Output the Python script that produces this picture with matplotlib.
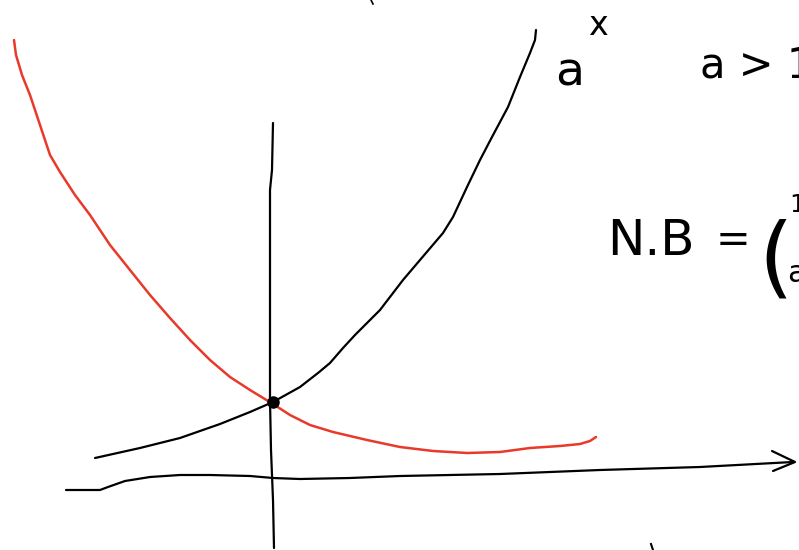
import matplotlib
matplotlib.use("Agg")
import matplotlib.pyplot as plt

# Sketch of a^x (a > 1) and its mirror (1/a)^x, in canvas pixel units
growth_x = [95, 140, 180, 220, 250, 273, 300, 318, 330, 343, 355, 367, 380, 403, 420, 443, 453, 467, 480, 492, 508, 520, 530, 535, 536]
growth_y = [458, 448, 438, 424, 412, 402, 387, 373, 363, 348, 335, 323, 310, 280, 260, 233, 217, 187, 160, 137, 107, 77, 53, 40, 30]

decay_x = [14, 16, 22, 30, 40, 50, 60, 75, 90, 110, 130, 150, 170, 190, 210, 230, 250, 273, 290, 310, 333, 367, 400, 433, 467, 500, 530, 560, 580, 590, 596]
decay_y = [40, 55, 75, 95, 125, 155, 172, 195, 215, 245, 270, 295, 318, 340, 360, 377, 390, 404, 415, 425, 432, 440, 447, 451, 453, 452, 448, 446, 444, 441, 437]

yaxis_x = [273, 272, 270, 270, 270, 271, 273, 274]
yaxis_y = [123, 170, 190, 300, 400, 450, 500, 548]

xaxis_x = [66, 100, 108, 125, 150, 180, 210, 250, 273, 300, 350, 400, 500, 600, 700, 793]
xaxis_y = [490, 490, 487, 481, 477, 475, 475, 476, 478, 479, 478, 476, 474, 470, 467, 462]

arrow_x = [772, 795, 773]
arrow_y = [451, 462, 471]

intercept = (273, 402)

fig = plt.figure(figsize=(7.99, 5.5), dpi=100)
ax = fig.add_axes([0, 0, 1, 1])
ax.set_xlim(0, 799)
ax.set_ylim(550, 0)
ax.axis("off")

ink = "#000000"
red = "#e8392a"

ax.plot(xaxis_x, xaxis_y, color=ink, lw=1.6, solid_capstyle="round", solid_joinstyle="round")
ax.plot(arrow_x, arrow_y, color=ink, lw=1.6, solid_capstyle="round", solid_joinstyle="round")
ax.plot(yaxis_x, yaxis_y, color=ink, lw=1.6, solid_capstyle="round", solid_joinstyle="round")
ax.plot(growth_x, growth_y, color=ink, lw=1.6, solid_capstyle="round", solid_joinstyle="round")
ax.plot(decay_x, decay_y, color=red, lw=1.8, solid_capstyle="round", solid_joinstyle="round")
ax.plot(*intercept, "o", color=ink, ms=8)

# stray pen marks
ax.plot([371, 373], [0, 4], color=ink, lw=1.2)
ax.plot([651, 653], [544, 550], color=ink, lw=1.5)

# annotations
ax.text(570, 86, "a", fontsize=34, color=ink, ha="center", va="baseline", family="DejaVu Sans")
ax.text(598, 35, "x", fontsize=24, color=ink, ha="center", va="baseline", family="DejaVu Sans")
ax.text(700, 78, "a > 1", fontsize=30, color=ink, ha="left", va="baseline", family="DejaVu Sans")
ax.text(607, 255, "N.B", fontsize=36, color=ink, ha="left", va="baseline", family="DejaVu Sans")
ax.text(716, 252, "=", fontsize=30, color=ink, ha="left", va="baseline", family="DejaVu Sans")
ax.text(758, 286, "(", fontsize=64, color=ink, ha="left", va="baseline", family="DejaVu Sans")
ax.text(789, 212, "1", fontsize=18, color=ink, ha="left", va="baseline", family="DejaVu Sans")
ax.text(787, 282, "a", fontsize=22, color=ink, ha="left", va="baseline", family="DejaVu Sans")

fig.savefig("out.png", dpi=100)
